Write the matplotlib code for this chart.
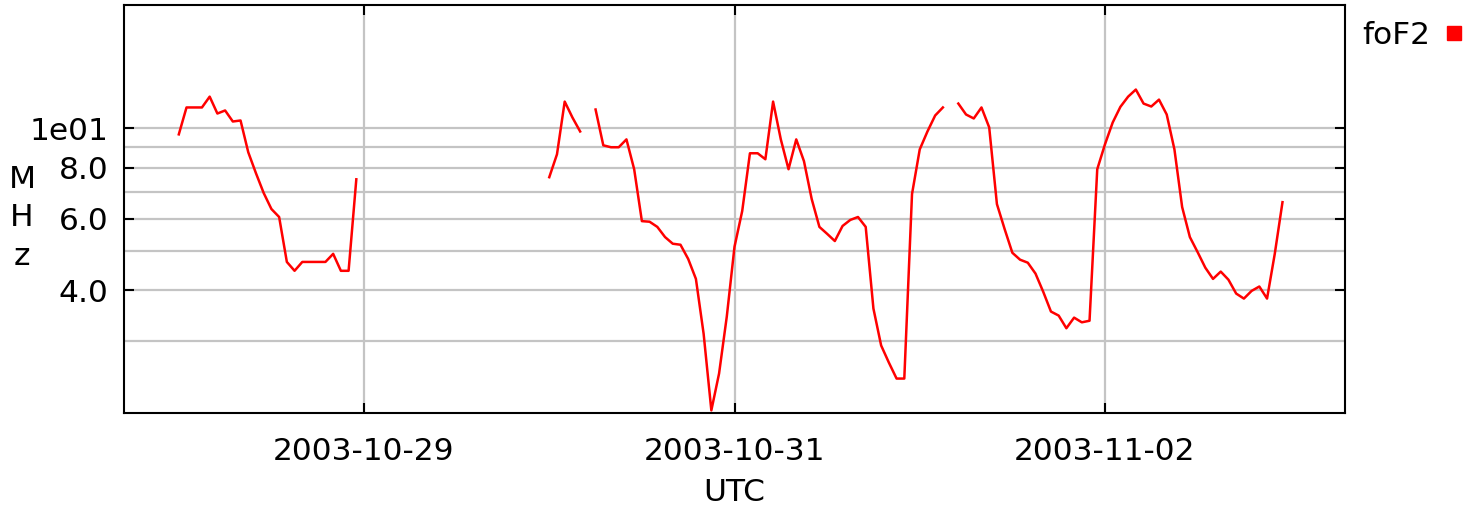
import matplotlib
matplotlib.use('Agg')
import matplotlib.pyplot as plt
import matplotlib.dates as mdates
from matplotlib.ticker import FixedLocator, FixedFormatter, NullFormatter
from matplotlib.lines import Line2D
import numpy as np
import pandas as pd

nan = np.nan

# hourly foF2 (MHz), 2003-10-28 00:00 .. 23:00
foF2_oct28 = [9.67, 11.26, 11.26, 11.26, 11.97, 10.88, 11.07, 10.40, 10.46, 8.74,
              7.76, 6.94, 6.34, 6.06, 4.70, 4.47, 4.70, 4.70, 4.70, 4.70,
              4.92, 4.47, 4.47, 7.50]

# hourly foF2 (MHz), 2003-10-30 00:00 .. 2003-11-02 23:00
foF2_oct30 = [7.59, 8.64, 11.64, 10.64, 9.83, nan, 11.13, 9.09, 8.99, 8.99,
              9.40, 7.94, 5.92, 5.90, 5.73, 5.41, 5.21, 5.18, 4.78, 4.27,
              3.13, 2.03, 2.50, 3.45]
foF2_oct31 = [5.12, 6.27, 8.69, 8.69, 8.40, 11.64, 9.40, 7.94, 9.40, 8.31,
              6.71, 5.73, 5.51, 5.29, 5.76, 5.96, 6.06, 5.73, 3.61, 2.93,
              2.66, 2.43, 2.43, 6.90]
foF2_nov01 = [8.88, 9.83, 10.76, 11.26, nan, 11.51, 10.82, 10.58, 11.26, 10.06,
              6.52, 5.66, 4.95, 4.76, 4.68, 4.40, 3.97, 3.55, 3.47, 3.23,
              3.43, 3.34, 3.37, 7.94]
foF2_nov02 = [9.14, 10.34, 11.30, 11.97, 12.46, 11.51, 11.32, 11.77, 10.82, 8.88,
              6.41, 5.41, 4.97, 4.55, 4.27, 4.45, 4.25, 3.93, 3.82, 3.99,
              4.09, 3.82, 4.92, 6.59]

s1 = pd.Series(foF2_oct28, index=pd.date_range('2003-10-28 00:00', periods=24, freq='h'))
s2 = pd.Series(foF2_oct30 + foF2_oct31 + foF2_nov01 + foF2_nov02,
               index=pd.date_range('2003-10-30 00:00', periods=96, freq='h'))
full_idx = pd.date_range('2003-10-28 00:00', '2003-11-02 23:00', freq='h')
foF2 = pd.concat([s1, s2]).reindex(full_idx)

date_ticks = pd.to_datetime(['2003-10-29', '2003-10-31', '2003-11-02'])
y_ticks = [4, 6, 8, 10]
y_tick_labels = ['4.0', '6.0', '8.0', '1e01']
y_grid_extra = [3, 5, 7, 9]

FS = 22.5

plt.rcParams['font.family'] = 'DejaVu Sans'
fig = plt.figure(figsize=(14.79, 5.12), dpi=100)
ax = fig.add_axes([124 / 1479, 1 - 413 / 512, (1345 - 124) / 1479, (413 - 5) / 512])

ax.plot(foF2.index, foF2.values, color='red', lw=1.8)

ax.set_yscale('log')
ax.set_ylim(2.0, 20.1)
ax.set_xlim(pd.Timestamp('2003-10-27 16:54'), pd.Timestamp('2003-11-03 07:06'))

ax.yaxis.set_major_locator(FixedLocator(y_ticks))
ax.yaxis.set_major_formatter(FixedFormatter(y_tick_labels))
ax.yaxis.set_minor_locator(FixedLocator(y_grid_extra))
ax.yaxis.set_minor_formatter(NullFormatter())

ax.xaxis.set_major_locator(FixedLocator(mdates.date2num(date_ticks)))
ax.xaxis.set_major_formatter(mdates.DateFormatter('%Y-%m-%d'))
ax.xaxis.set_minor_locator(FixedLocator([]))

ax.grid(True, which='both', axis='y', color='#c4c4c4', lw=1.6)
ax.grid(True, which='major', axis='x', color='#c4c4c4', lw=1.6)
ax.set_axisbelow(True)

ax.tick_params(which='major', direction='in', length=7, width=1.5, labelsize=FS,
               top=True, right=True)
ax.tick_params(axis='x', pad=17)
ax.tick_params(axis='y', pad=11)
ax.tick_params(which='minor', length=0)
for sp in ax.spines.values():
    sp.set_linewidth(1.5)

ax.set_xlabel('UTC', fontsize=FS, labelpad=9)
ax.set_ylabel('M\nH\nz', rotation=0, fontsize=FS, linespacing=1.4, ha='center', va='center')
ax.yaxis.set_label_coords((22 - 124) / 1221, (413 - 218) / 408)

handle = Line2D([], [], color='red', marker='s', ls='', markersize=10)
fig.legend([handle], ['foF2'], loc='center left', bbox_to_anchor=(1334 / 1479, 1 - 35 / 512),
           frameon=False, markerfirst=False, fontsize=FS, handletextpad=0.4,
           handlelength=0.7)

fig.savefig('out.png', dpi=100)
